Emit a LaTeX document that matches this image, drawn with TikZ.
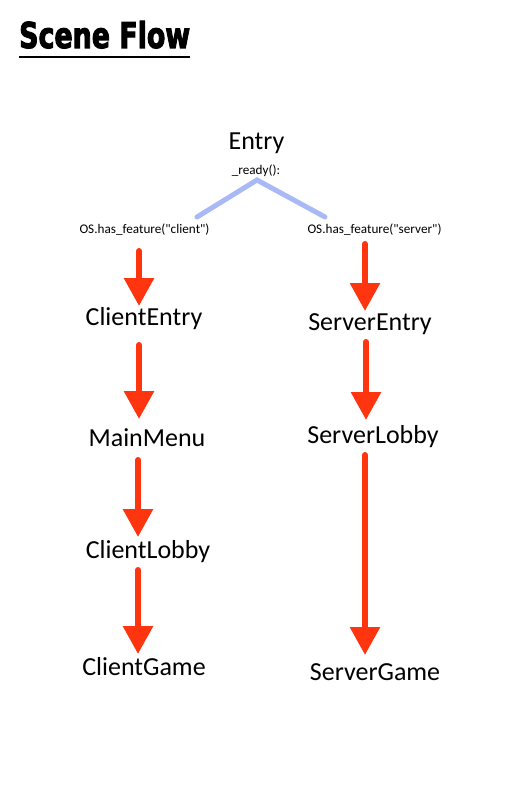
\documentclass[tikz,border=0pt]{standalone}
\usepackage{fontspec}
\setmainfont{Carlito}
\newfontfamily\condfont{Carlito}[Ligatures=TeXOff]
\newfontfamily\titlefont{DejaVu Sans Condensed}[BoldFeatures={FakeBold=3}]
\usetikzlibrary{arrows.meta}
\definecolor{flowred}{HTML}{FF3510}
\definecolor{branchblue}{HTML}{A9B9F5}

\begin{document}
\begin{tikzpicture}[
  x=1pt, y=-1pt,
  scene/.style={
    inner sep=0pt,
    outer sep=0pt,
    anchor=base,
    font=\fontsize{26}{30}\selectfont
  },
  cond/.style={
    inner sep=0pt,
    anchor=base,
    font=\condfont\fontsize{13.2}{15}\selectfont
  },
  flowarrow/.style={
    draw=flowred,
    line width=6pt,
    line cap=round,
    -{Triangle[width=29pt,length=28pt]}
  },
  branchline/.style={draw=branchblue, line width=5pt, line cap=round}]
  \useasboundingbox (0,0) rectangle (512,800);
  % title
  \node[inner sep=0pt, anchor=base west] (title) at (19,48)
    {\resizebox{171pt}{27pt}{\titlefont\bfseries Scene Flow}};
  \draw[line width=2pt] ([yshift=-9pt]title.base west) -- ([yshift=-9pt]title.base east);
  % entry scene
  \node[scene] (entry) at (256.5,149) {Entry};
  \node[cond] (ready) at (256,174) {\_ready():};
  \node[cond] (condc) at (144.5,233) {OS.has\_feature("client")};
  \node[cond] (conds) at (374.5,233) {OS.has\_feature("server")};
  \draw[branchline] ([xshift=52.5pt,yshift=16pt]condc.base) -- ([xshift=1pt,yshift=-6pt]ready.base)
    -- ([xshift=-49.5pt,yshift=16pt]conds.base);
  % client side
  \node[scene] (cliententry) at (144,325) {ClientEntry};
  \node[scene] (mainmenu) at (147,446) {MainMenu};
  \node[scene] (clientlobby) at (148,558) {ClientLobby};
  \node[scene] (clientgame) at (144,675) {ClientGame};
  % server side
  \node[scene] (serverentry) at (370,330) {ServerEntry};
  \node[scene] (serverlobby) at (373,443) {ServerLobby};
  \node[scene] (servergame) at (375,680) {ServerGame};
  % arrows
  \draw[flowarrow] ([xshift=-5.5pt,yshift=-18pt]condc.base) -- ([xshift=-5pt,yshift=19pt]cliententry.base);
  \draw[flowarrow] ([xshift=-5pt,yshift=-20pt]cliententry.base) -- ([xshift=-8pt,yshift=27pt]mainmenu.base);
  \draw[flowarrow] ([xshift=-9pt,yshift=-14pt]mainmenu.base) -- ([xshift=-10pt,yshift=21pt]clientlobby.base);
  \draw[flowarrow] ([xshift=-10pt,yshift=-12pt]clientlobby.base) -- ([xshift=-6pt,yshift=21pt]clientgame.base);
  \draw[flowarrow] ([xshift=-9.5pt,yshift=-11pt]conds.base) -- ([xshift=-5pt,yshift=19pt]serverentry.base);
  \draw[flowarrow] ([xshift=-4pt,yshift=-12pt]serverentry.base) -- ([xshift=-7pt,yshift=23pt]serverlobby.base);
  \draw[flowarrow] ([xshift=-8pt,yshift=-12pt]serverlobby.base) -- ([xshift=-10pt,yshift=25pt]servergame.base);
\end{tikzpicture}
\end{document}
